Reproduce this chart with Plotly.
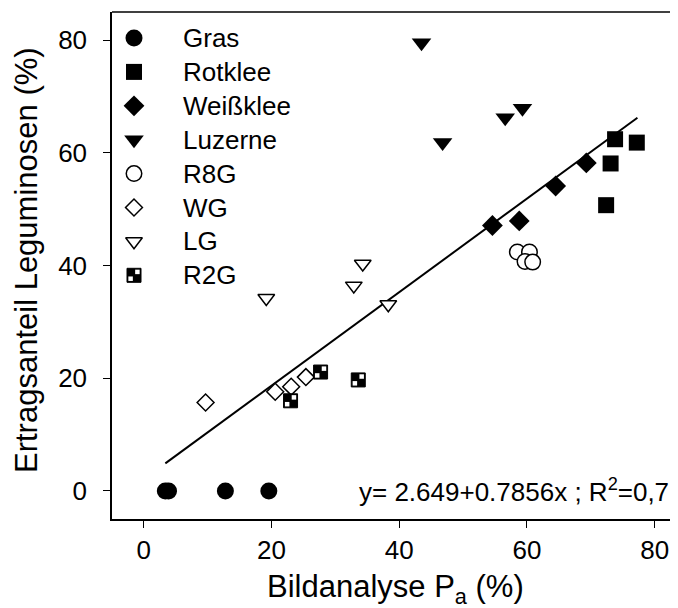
import plotly.graph_objects as go

# ---------------- data ----------------
gras_x = [3.4, 3.9, 12.8, 19.6]
gras_y = [0.0, 0.0, 0.0, 0.0]
rotklee_x = [73.8, 77.2, 73.1, 72.4]
rotklee_y = [62.4, 61.8, 58.1, 50.7]
weissklee_x = [54.6, 58.8, 64.5, 69.3]
weissklee_y = [47.1, 47.9, 54.1, 58.2]
luzerne_x = [43.5, 46.8, 56.6, 59.3]
luzerne_y = [79.5, 61.8, 66.2, 67.9]
r8g_x = [58.5, 60.4, 59.7, 60.9]
r8g_y = [42.4, 42.4, 40.7, 40.6]
wg_x = [9.7, 20.6, 23.1, 25.4]
wg_y = [15.7, 17.6, 18.5, 20.2]
lg_x = [19.2, 32.9, 34.3, 38.3]
lg_y = [34.2, 36.4, 40.3, 33.1]
r2g_x = [23.0, 27.7, 33.6]
r2g_y = [16.0, 21.1, 19.7]

fit_x = [3.4, 77.3]
fit_y = [4.9, 66.2]

x_ticks = [0, 20, 40, 60, 80]
y_ticks = [0, 20, 40, 60, 80]
legend_labels = ["Gras", "Rotklee", "Weißklee", "Luzerne", "R8G", "WG", "LG", "R2G"]
equation_text = "y= 2.649+0.7856x ; R<sup>2</sup>=0,7"
x_title = "Bildanalyse P<sub>a</sub> (%)"
y_title = "Ertragsanteil Leguminosen (%)"

# ---------------- layout constants ----------------
# the page body has an 8px margin, so the figure is drawn 8px in from the window edge
OFF = 8
WIN_W, WIN_H = 678, 608
W, H = WIN_W - OFF, WIN_H - OFF
# plot-area edges in window pixels
PL, PR, PT, PB = 112, 678, 12, 519
XR = [-4.95, 83.65]
YR = [-4.97, 84.97]
FONT = "Liberation Sans, Arial, sans-serif"
px_x = (PR - PL) / (XR[1] - XR[0])
px_y = (PB - PT) / (YR[1] - YR[0])

BLACK = "black"
styles = {
    "Gras": dict(symbol="circle", size=17, color=BLACK, line=dict(width=0)),
    "Rotklee": dict(symbol="square", size=16, color=BLACK, line=dict(width=0)),
    "Weißklee": dict(symbol="diamond", size=16, color=BLACK, line=dict(width=0)),
    "Luzerne": dict(symbol="triangle-down", size=17, color=BLACK, line=dict(width=0)),
    "R8G": dict(symbol="circle", size=15.5, color="white", line=dict(width=1.5, color=BLACK)),
    "WG": dict(symbol="diamond", size=13, color="white", line=dict(width=1.5, color=BLACK)),
    "LG": dict(symbol="triangle-down", size=14.5, color="white", line=dict(width=1.5, color=BLACK)),
    "R2G": dict(symbol="square", size=14, color=BLACK, line=dict(width=1, color=BLACK)),
}
checker = dict(symbol="square", size=4.5, color="white", line=dict(width=0))

fig = go.Figure()

# regression line
fig.add_trace(go.Scatter(x=fit_x, y=fit_y, mode="lines",
                         line=dict(color=BLACK, width=2), showlegend=False, hoverinfo="skip"))

series = [
    ("Gras", gras_x, gras_y), ("Rotklee", rotklee_x, rotklee_y),
    ("Weißklee", weissklee_x, weissklee_y), ("Luzerne", luzerne_x, luzerne_y),
    ("R8G", r8g_x, r8g_y), ("WG", wg_x, wg_y), ("LG", lg_x, lg_y), ("R2G", r2g_x, r2g_y),
]
for name, xs, ys in series:
    fig.add_trace(go.Scatter(x=xs, y=ys, mode="markers", name=name,
                             marker=styles[name], showlegend=False))

# checkerboard white quadrants for R2G
dx, dy = 3.4 / px_x, 3.4 / px_y
fig.add_trace(go.Scatter(
    x=[v + dx for v in r2g_x] + [v - dx for v in r2g_x],
    y=[v + dy for v in r2g_y] + [v - dy for v in r2g_y],
    mode="markers", marker=checker, showlegend=False, hoverinfo="skip"))

# ---------------- custom legend on a pixel-mapped overlay axis ----------------
LEG_X, LEG_TXT_X, LEG_Y0, LEG_DY = 134, 181, 38, 33.9
leg_y = [LEG_Y0 + LEG_DY * i for i in range(len(legend_labels))]
for lab, yy in zip(legend_labels, leg_y):
    fig.add_trace(go.Scatter(x=[LEG_X], y=[yy], mode="markers", marker=styles[lab],
                             xaxis="x2", yaxis="y2", showlegend=False, hoverinfo="skip"))
    fig.add_annotation(x=LEG_TXT_X, y=yy, xref="x2", yref="y2", text=lab, showarrow=False,
                       xanchor="left", yanchor="middle",
                       font=dict(family=FONT, size=26, color=BLACK))
r2g_leg_y = leg_y[legend_labels.index("R2G")]
fig.add_trace(go.Scatter(x=[LEG_X + 3.4, LEG_X - 3.4], y=[r2g_leg_y - 3.4, r2g_leg_y + 3.4],
                         mode="markers", marker=checker, xaxis="x2", yaxis="y2",
                         showlegend=False, hoverinfo="skip"))

# equation
fig.add_annotation(x=(671 - PL) / (PR - PL), xref="paper", y=0, yref="y", text=equation_text,
                   showarrow=False, xanchor="right", yanchor="middle",
                   font=dict(family=FONT, size=26, color=BLACK))

# axis titles
fig.add_annotation(x=0.5, xref="paper", y=(PB - 589) / (PB - PT), yref="paper", text=x_title,
                   showarrow=False, xanchor="center", yanchor="middle",
                   font=dict(family=FONT, size=31, color=BLACK))
fig.add_annotation(x=(27 - PL) / (PR - PL), xref="paper", y=(PB - 260) / (PB - PT), yref="paper",
                   text=y_title, textangle=-90, showarrow=False, xanchor="center", yanchor="middle",
                   font=dict(family=FONT, size=31, color=BLACK))

# top border line
fig.add_shape(type="line", xref="paper", yref="paper", x0=0, x1=1, y0=1, y1=1,
              line=dict(color=BLACK, width=1.5))

axis_common = dict(showgrid=False, zeroline=False, showline=True, linecolor=BLACK, linewidth=1.5,
                   ticks="outside", ticklen=7, tickwidth=1.2, tickcolor=BLACK,
                   tickfont=dict(family=FONT, size=26, color=BLACK))
fig.update_layout(
    width=W, height=H,
    margin=dict(l=PL - OFF, r=WIN_W - PR, t=PT - OFF, b=WIN_H - PB, pad=0),
    paper_bgcolor="white", plot_bgcolor="white", showlegend=False,
    xaxis=dict(range=XR, tickvals=x_ticks, **axis_common),
    yaxis=dict(range=YR, tickvals=y_ticks, ticklabelstandoff=11, **axis_common),
    xaxis2=dict(range=[PL, PR], overlaying="x", visible=False, anchor="y2"),
    yaxis2=dict(range=[PB, PT], overlaying="y", visible=False, anchor="x2"),
    font=dict(family=FONT, color=BLACK),
)

fig.write_html("out.html")
